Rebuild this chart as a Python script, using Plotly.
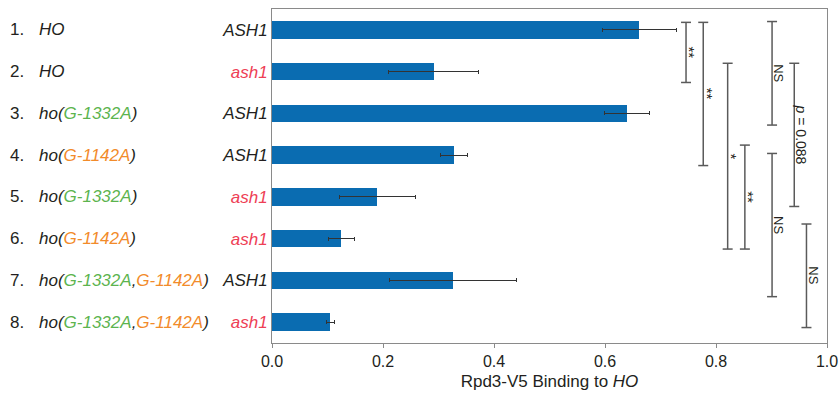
import plotly.graph_objects as go

# ---- data ----
row_numbers = ["1.", "2.", "3.", "4.", "5.", "6.", "7.", "8."]
ho_alleles = [[], [], ["G-1332A"], ["G-1142A"], ["G-1332A"], ["G-1142A"],
              ["G-1332A", "G-1142A"], ["G-1332A", "G-1142A"]]
ash1_labels = ["ASH1", "ash1", "ASH1", "ASH1", "ash1", "ash1", "ASH1", "ash1"]
binding = [0.662, 0.291, 0.640, 0.328, 0.190, 0.125, 0.326, 0.105]
binding_err = [0.066, 0.081, 0.041, 0.025, 0.068, 0.024, 0.115, 0.007]
x_ticks = [0.0, 0.2, 0.4, 0.6, 0.8, 1.0]

# significance brackets: x position, start row, end row, label
bracket_x = [0.746, 0.777, 0.821, 0.852, 0.901, 0.901, 0.941, 0.963]
bracket_y0 = [-0.18, -0.18, 0.80, 2.76, -0.20, 2.96, 0.80, 4.65]
bracket_y1 = [1.26, 3.25, 5.25, 5.25, 2.28, 6.39, 4.23, 7.13]
bracket_text = ["**", "**", "*", "**", "NS", "NS", "<i>p</i> = 0.088", "NS"]

# ---- styles ----
FONT = "Liberation Sans, Arial, sans-serif"
BAR_COLOR = "#0a6cb1"
GREEN = "#5cb44e"
ORANGE = "#f28b2a"
RED = "#ee4055"
TXT = "#231f20"
LINE = "#5a5a5a"
CAP = 0.009

colors_for = {"G-1332A": GREEN, "G-1142A": ORANGE}

def genotype_label(alleles):
    if not alleles:
        return "<i>HO</i>"
    parts = ",".join(f"<span style='color:{colors_for[a]}'>{a}</span>" for a in alleles)
    return f"<i>ho({parts})</i>"

def ash_label(s):
    c = TXT if s.isupper() else RED
    return f"<i><span style='color:{c}'>{s}</span></i>"

rows = list(range(len(binding)))

fig = go.Figure()
fig.add_trace(go.Bar(
    x=binding, y=rows, orientation="h", width=0.415,
    marker=dict(color=BAR_COLOR, line=dict(width=0)),
    error_x=dict(type="data", array=binding_err, color="#333333", thickness=1, width=2),
    showlegend=False, hoverinfo="skip",
))

# bracket lines
bx, by = [], []
for x, y0, y1 in zip(bracket_x, bracket_y0, bracket_y1):
    bx += [x, x, None, x - CAP, x + CAP, None, x - CAP, x + CAP, None]
    by += [y0, y1, None, y0, y0, None, y1, y1, None]
fig.add_trace(go.Scatter(x=bx, y=by, mode="lines", line=dict(color=LINE, width=1.5),
                         showlegend=False, hoverinfo="skip"))

annotations = []
for x, y0, y1, t in zip(bracket_x, bracket_y0, bracket_y1, bracket_text):
    star = t.startswith("*")
    annotations.append(dict(
        x=x, y=(y0 + y1) / 2, xref="x", yref="y", text=t, showarrow=False,
        textangle=90, xanchor="center", yanchor="middle",
        xshift=4 if star else 7,
        font=dict(family=FONT, size=15 if star else (14 if "p" in t else 13), color=TXT),
    ))

for r, num, al in zip(rows, row_numbers, ho_alleles):
    annotations.append(dict(x=-0.475, y=r, xref="paper", yref="y", text=num,
                            showarrow=False, xanchor="left", yanchor="middle",
                            font=dict(family=FONT, size=17, color=TXT)))
    annotations.append(dict(x=-0.4235, y=r, xref="paper", yref="y", text=genotype_label(al),
                            showarrow=False, xanchor="left", yanchor="middle",
                            font=dict(family=FONT, size=17, color=TXT)))

fig.update_layout(
    width=839, height=394,
    margin=dict(l=272, r=12, t=9, b=51, autoexpand=False),
    paper_bgcolor="white", plot_bgcolor="white",
    font=dict(family=FONT, color=TXT),
    annotations=annotations,
    bargap=0,
)
fig.update_xaxes(
    range=[0, 1], tickvals=x_ticks, ticktext=[f"{v:.1f}" for v in x_ticks],
    showgrid=False, zeroline=False,
    showline=True, mirror=True, linecolor="#8a8a8a", linewidth=1,
    ticks="outside", ticklen=4, tickcolor="#8a8a8a",
    tickfont=dict(family=FONT, size=16, color=TXT),
    title=dict(text="Rpd3-V5 Binding to <i>HO</i>", font=dict(family=FONT, size=17, color=TXT),
               standoff=5),
)
fig.update_yaxes(
    range=[7.5, -0.5], tickvals=rows, ticktext=[ash_label(s) for s in ash1_labels],
    showgrid=False, zeroline=False,
    showline=True, mirror=True, linecolor="#8a8a8a", linewidth=1,
    ticks="", tickfont=dict(family=FONT, size=17, color=TXT),
)

fig.write_html("out.html",
               config={"displayModeBar": False},
               post_script="document.body.style.margin='0';document.body.style.overflow='hidden';")
